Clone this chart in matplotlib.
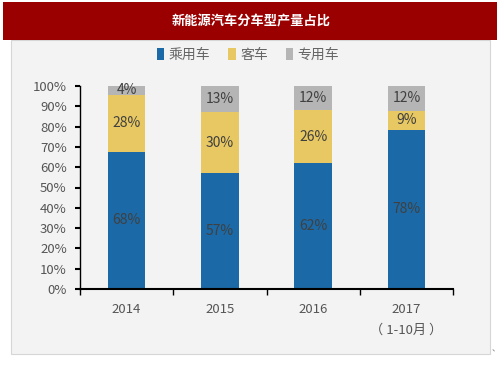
import matplotlib
matplotlib.use("Agg")
import matplotlib.pyplot as plt
from matplotlib.patches import Rectangle, Patch
import numpy as np

plt.rcParams['font.family'] = ['Noto Sans CJK SC', 'DejaVu Sans']

title = "新能源汽车分车型产量占比"
categories = ["2014", "2015", "2016", "2017\n（ 1-10月 ）"]
series_names = ["乘用车", "客车", "专用车"]
passenger = [67.6, 57.0, 62.0, 78.4]
bus = [28.0, 30.0, 26.0, 9.3]
special = [4.4, 13.0, 12.0, 12.3]
colors = ["#1B69A6", "#E8C862", "#B5B5B5"]

W, H = 503, 378
fig = plt.figure(figsize=(W / 100, H / 100), dpi=100)
fig.patch.set_facecolor("white")

# panel background
fig.add_artist(Rectangle((11 / W, 1 - 354 / H), (490 - 11) / W, (354 - 40) / H,
                         transform=fig.transFigure, facecolor="#F3F3F3",
                         edgecolor="#D6D6D6", linewidth=0.8, zorder=0))
# red banner
fig.add_artist(Rectangle((3 / W, 1 - 40 / H), (497 - 3) / W, (40 - 2) / H,
                         transform=fig.transFigure, facecolor="#9B0000",
                         edgecolor="none", zorder=1))
fig.text(251 / W, 1 - 21 / H, title, color="white", fontsize=9.5,
         fontweight="bold", ha="center", va="center", zorder=2)
fig.text(496 / W, 1 - 349 / H, "、", color="#777777", fontsize=6,
         ha="center", va="center")

ax = fig.add_axes([80 / W, 1 - 289 / H, (453 - 80) / W, (289 - 86) / H])
ax.set_facecolor("none")

x = np.arange(len(categories))
width = 0.4
data = [passenger, bus, special]
bottom = np.zeros(len(categories))
for vals, c, name in zip(data, colors, series_names):
    vals = np.array(vals)
    ax.bar(x, vals, width, bottom=bottom, color=c, label=name, edgecolor="none")
    for xi, b, v in zip(x, bottom, vals):
        ax.text(xi, b + v / 2, f"{v:.0f}%", ha="center", va="center",
                fontsize=10, color="#404040")
    bottom = bottom + vals

ax.set_xlim(-0.5, 3.5)
ax.set_ylim(0, 100)
ax.set_yticks(np.arange(0, 101, 10))
ax.set_yticklabels([f"{v}%" for v in range(0, 101, 10)])
ax.set_xticks(x)
ax.set_xticklabels(categories, linespacing=1.75)
ax.set_xticks(np.arange(-0.5, 4, 1), minor=True)
ax.tick_params(axis="x", which="major", length=0, pad=10, labelsize=9.5, colors="#555555")
ax.tick_params(axis="x", which="minor", length=4, width=1, color="black", direction="out")
ax.tick_params(axis="y", length=3.5, width=1.5, color="black", labelsize=9.5,
               labelcolor="#555555", pad=6)
for s in ["top", "right"]:
    ax.spines[s].set_visible(False)
ax.spines["left"].set_linewidth(1.0)
ax.spines["bottom"].set_linewidth(1.5)

handles = [Patch(facecolor=c, edgecolor="none") for c in colors]
fig.legend(handles, series_names, loc="center", bbox_to_anchor=(248 / W, 1 - 55 / H),
           ncol=3, frameon=False, handlelength=0.55, handleheight=0.9,
           handletextpad=0.3, columnspacing=1.3, prop={"size": 10},
           labelcolor="#666666")

fig.savefig("out.png", dpi=100)
